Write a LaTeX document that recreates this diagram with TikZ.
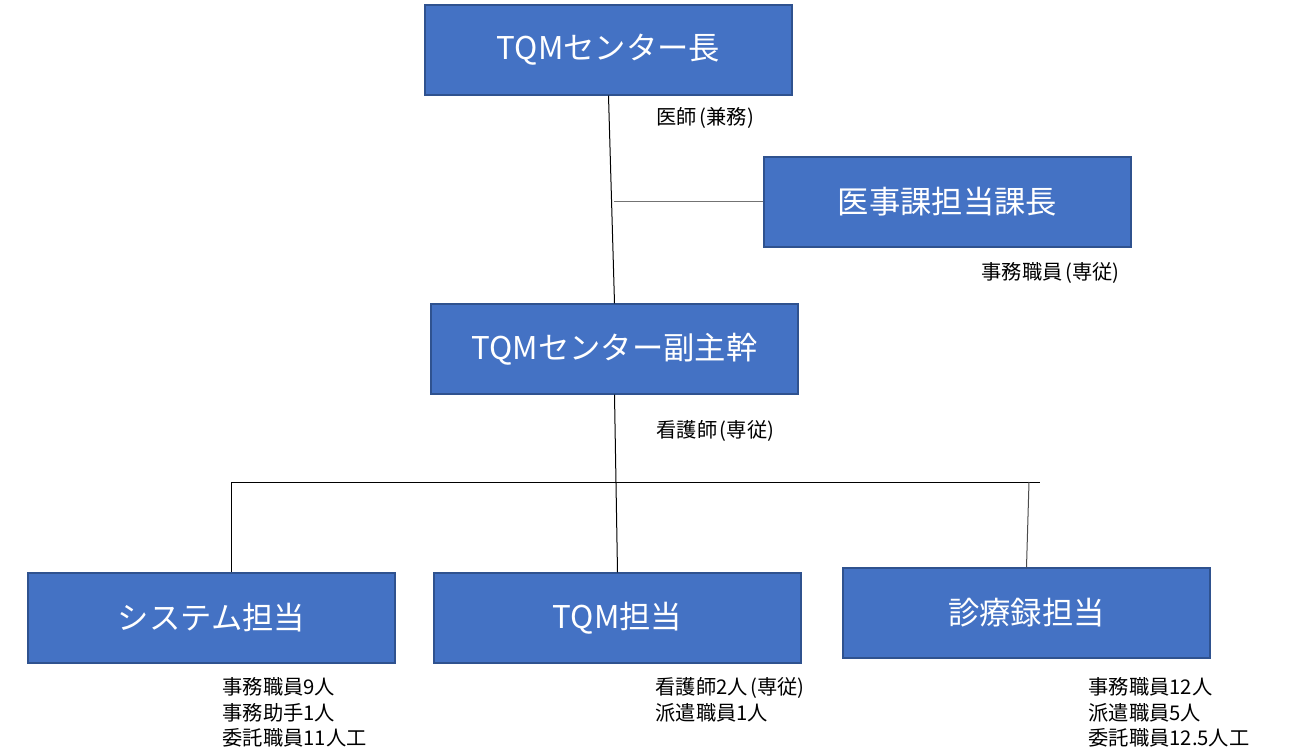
\documentclass[tikz,border=0pt]{standalone}
\usepackage{fontspec}
\setmainfont{Noto Sans CJK JP}
\usepackage{tikz}
\definecolor{boxfill}{HTML}{4472C4}
\definecolor{boxline}{HTML}{2F528F}

\begin{document}
\begin{tikzpicture}[x=0.75pt,y=-0.75pt,line width=0.75pt,
    unit/.style={draw=boxline,fill=boxfill,line width=1pt,text=white,
        minimum width=275.25pt,minimum height=67.5pt,inner sep=0pt,
        font=\fontsize{23.5}{28}\selectfont},
    note/.style={anchor=west,inner sep=0pt,align=left,
        font=\fontsize{15.2}{19.2}\selectfont}]
            \useasboundingbox (0,0) rectangle (1300,752);

            % boxes
            \node[unit] (chief) at (608.5,50) {TQMセンター長};
            \node[unit] (ijika) at (947.5,202) {医事課担当課長};
            \node[unit] (fuku) at (614.5,349) {TQMセンター副主幹};
            \node[unit] (sys) at (211.5,618) {システム担当};
            \node[unit] (tqm) at (617.5,618) {TQM担当};
            \node[unit] (shinryo) at (1026.5,613) {診療録担当};

            % notes
            \node[note] (n1) at (656,118) {医師\kern2pt(兼務)};
            \node[note] (n2) at (981,273) {事務職員\kern2pt(専従)};
            \node[note] (n3) at (656,431) {看護師\kern2pt(専従)};
            \node[note] (n4) at (222,712.5) {事務職員9人\\事務助手1人\\委託職員11人工};
            \node[note] (n5) at (655,700) {看護師2人\kern2pt(専従)\\派遣職員1人};
            \node[note] (n6) at (1088,712.5) {事務職員12人\\派遣職員5人\\委託職員12.5人工};

            % lines
            \coordinate (branch) at (614,202);
            \coordinate (barL) at (231,482);
            \coordinate (barR) at (1029,482);
            \coordinate (barE) at (1040,482);
            \draw (chief.south) -- (fuku.north);
            \draw[black!55] (branch) -- (ijika.west);
            \draw (fuku.south) -- (tqm.north);
            \draw (barL) -- (barE);
            \draw (barL) -- (barL |- sys.north);
            \draw[black!70] (barR) -- (shinryo.north);
        \end{tikzpicture}
\end{document}
